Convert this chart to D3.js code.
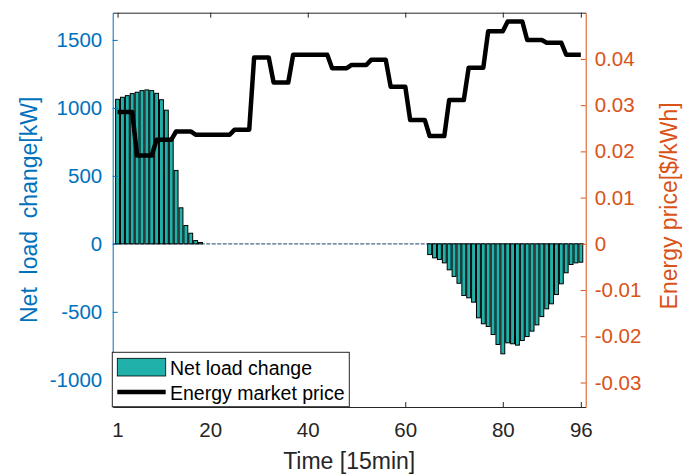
<!DOCTYPE html>
<html><head><meta charset="utf-8">
<script src="https://cdn.jsdelivr.net/npm/d3@7"></script>
<style>
body{margin:0;background:#fff}
text{font-family:"Liberation Sans",Arial,Helvetica,sans-serif}
</style>
</head><body>
<svg id="chart" width="697" height="475"></svg>
<script>
// ---------- data ----------
const xTickValues = [1, 20, 40, 60, 80, 96];
const leftTickValues = [-1000, -500, 0, 500, 1000, 1500];
const rightTickValues = [-0.03, -0.02, -0.01, 0, 0.01, 0.02, 0.03, 0.04];

// Net load change [kW], one value per 15-min interval (1..96)
const netLoadChange = [
  1063, 1078, 1090, 1105, 1115, 1127, 1132, 1127, 1107, 1060,
  983, 770, 540, 265, 135, 78, 24, 10, 0, 0,
  0, 0, 0, 0, 0, 0, 0, 0, 0, 0,
  0, 0, 0, 0, 0, 0, 0, 0, 0, 0,
  0, 0, 0, 0, 0, 0, 0, 0, 0, 0,
  0, 0, 0, 0, 0, 0, 0, 0, 0, 0,
  0, 0, 0, 0, -79, -103, -115, -140, -191, -240,
  -290, -380, -397, -429, -544, -588, -608, -667, -740, -809,
  -728, -735, -745, -711, -682, -642, -596, -535, -478, -441,
  -373, -294, -213, -152, -140, -135
];

// Energy market price [$/kWh], one value per 15-min interval (1..96)
const energyPrice = [
  0.0285, 0.0285, 0.0285, 0.0285, 0.0191, 0.0191, 0.0191, 0.0191,
  0.0225, 0.0225, 0.0225, 0.0225, 0.0243, 0.0243, 0.0243, 0.0243,
  0.0236, 0.0236, 0.0236, 0.0236, 0.0236, 0.0236, 0.0236, 0.0236,
  0.0247, 0.0247, 0.0247, 0.0247, 0.0403, 0.0403, 0.0403, 0.0403,
  0.0349, 0.0349, 0.0349, 0.0349, 0.0409, 0.0409, 0.0409, 0.0409,
  0.0409, 0.0409, 0.0409, 0.0409, 0.0380, 0.0380, 0.0380, 0.0380,
  0.0387, 0.0387, 0.0387, 0.0387, 0.0398, 0.0398, 0.0398, 0.0398,
  0.0340, 0.0340, 0.0340, 0.0340, 0.0268, 0.0268, 0.0268, 0.0268,
  0.0233, 0.0233, 0.0233, 0.0233, 0.0311, 0.0311, 0.0311, 0.0311,
  0.0381, 0.0381, 0.0381, 0.0381, 0.0460, 0.0460, 0.0460, 0.0460,
  0.0481, 0.0481, 0.0481, 0.0481, 0.0441, 0.0441, 0.0441, 0.0441,
  0.0435, 0.0435, 0.0435, 0.0435, 0.0409, 0.0409, 0.0409, 0.0409
];

const seriesNames = ["Net load change", "Energy market price"];
const axisLabels = { x: "Time [15min]", left: "Net  load  change[kW]", right: "Energy price[$/kWh]" };

// ---------- layout ----------
const plot = { left: 112.7, right: 585.7, top: 12.7, bottom: 407 };
const colors = { bar: "#20B2AA", left: "#0072BD", right: "#D95319", axis: "#262626" };
const tickFont = 20.5, labelFont = 23, legendFont = 19.5;

const svg = d3.select("#chart");

const x = d3.scaleLinear().domain([0, 97]).range([plot.left, plot.right]);
const yL = d3.scaleLinear().domain([-1200, 1700]).range([plot.bottom, plot.top]);
const yR = d3.scaleLinear().domain([-0.0353, 0.05]).range([plot.bottom, plot.top]);

svg.append("defs").append("clipPath").attr("id", "clip")
  .append("rect").attr("x", plot.left).attr("y", plot.top)
  .attr("width", plot.right - plot.left).attr("height", plot.bottom - plot.top);

const g = svg.append("g").attr("clip-path", "url(#clip)");

// baseline
g.append("line")
  .attr("x1", x(0)).attr("x2", x(97))
  .attr("y1", yL(0)).attr("y2", yL(0))
  .attr("stroke", "#4d6a86").attr("stroke-width", 1.3)
  .attr("stroke-dasharray", "4,1.5");

// bars
const barW = 0.8;
const pxPerUnit = x(1) - x(0);
g.selectAll("rect.bar").data(netLoadChange.map((v, i) => ({ t: i + 1, v })).filter(d => d.v !== 0))
  .join("rect").attr("class", "bar")
  .attr("x", d => x(d.t - barW / 2))
  .attr("width", barW * pxPerUnit)
  .attr("y", d => yL(Math.max(0, d.v)))
  .attr("height", d => Math.abs(yL(d.v) - yL(0)))
  .attr("fill", colors.bar)
  .attr("stroke", "#000").attr("stroke-width", 1);

// price line
const line = d3.line().x((d, i) => x(i + 1)).y(d => yR(d));
g.append("path").datum(energyPrice)
  .attr("d", line).attr("fill", "none")
  .attr("stroke", "#000").attr("stroke-width", 4.5)
  .attr("stroke-linejoin", "round");

// axes
function styleAxis(sel, color, fs) {
  sel.selectAll("path.domain").attr("stroke", color).attr("stroke-width", 1);
  sel.selectAll(".tick line").attr("stroke", color);
  sel.selectAll(".tick text").attr("fill", color).style("font-size", fs + "px")
    .style("font-family", '"Liberation Sans",Arial,sans-serif');
}

const gBottom = svg.append("g").attr("transform", `translate(0,${plot.bottom})`)
  .call(d3.axisBottom(x).tickValues(xTickValues).tickFormat(d3.format("d"))
    .tickSizeInner(-5).tickSizeOuter(0).tickPadding(15.5));
styleAxis(gBottom, colors.axis, tickFont);

const gTop = svg.append("g").attr("transform", `translate(0,${plot.top})`)
  .call(d3.axisTop(x).tickValues(xTickValues).tickFormat("")
    .tickSizeInner(-5).tickSizeOuter(0));
styleAxis(gTop, colors.axis, tickFont);

const gLeft = svg.append("g").attr("transform", `translate(${plot.left},0)`)
  .call(d3.axisLeft(yL).tickValues(leftTickValues).tickFormat(d => String(d))
    .tickSizeInner(-5).tickSizeOuter(0).tickPadding(10.5));
styleAxis(gLeft, colors.left, tickFont);

const gRight = svg.append("g").attr("transform", `translate(${plot.right},0)`)
  .call(d3.axisRight(yR).tickValues(rightTickValues)
    .tickFormat(d => Math.abs(d) < 1e-9 ? "0" : d3.format(".2f")(d).replace("−", "-"))
    .tickSizeInner(-5).tickSizeOuter(0).tickPadding(9));
styleAxis(gRight, colors.right, tickFont);

// axis labels
svg.append("text").text(axisLabels.x)
  .attr("x", (plot.left + plot.right) / 2).attr("y", 469)
  .attr("text-anchor", "middle").attr("fill", colors.axis).style("font-size", labelFont + "px");

svg.append("text").text(axisLabels.left)
  .attr("transform", `translate(36.5,${(plot.top + plot.bottom) / 2}) rotate(-90)`)
  .attr("text-anchor", "middle").attr("fill", colors.left).style("font-size", labelFont + "px")
  .style("white-space", "pre").attr("xml:space", "preserve");

svg.append("text").text(axisLabels.right)
  .attr("transform", `translate(676.5,${(plot.top + plot.bottom) / 2 - 4}) rotate(-90)`)
  .attr("text-anchor", "middle").attr("fill", colors.right).style("font-size", labelFont + "px");

// legend
const lg = svg.append("g");
lg.append("rect").attr("x", 112.3).attr("y", 352.3).attr("width", 237).attr("height", 54.4)
  .attr("fill", "#fff").attr("stroke", colors.axis).attr("stroke-width", 1);
lg.append("rect").attr("x", 117.3).attr("y", 358.3).attr("width", 48.4).attr("height", 17.7)
  .attr("fill", colors.bar).attr("stroke", "#000").attr("stroke-width", 0.8);
lg.append("text").text(seriesNames[0]).attr("x", 170).attr("y", 374.5)
  .attr("fill", "#000").style("font-size", legendFont + "px");
lg.append("line").attr("x1", 117.3).attr("x2", 165.7).attr("y1", 392).attr("y2", 392)
  .attr("stroke", "#000").attr("stroke-width", 4.5);
lg.append("text").text(seriesNames[1]).attr("x", 170).attr("y", 399.5)
  .attr("fill", "#000").style("font-size", legendFont + "px");
</script>
</body></html>
